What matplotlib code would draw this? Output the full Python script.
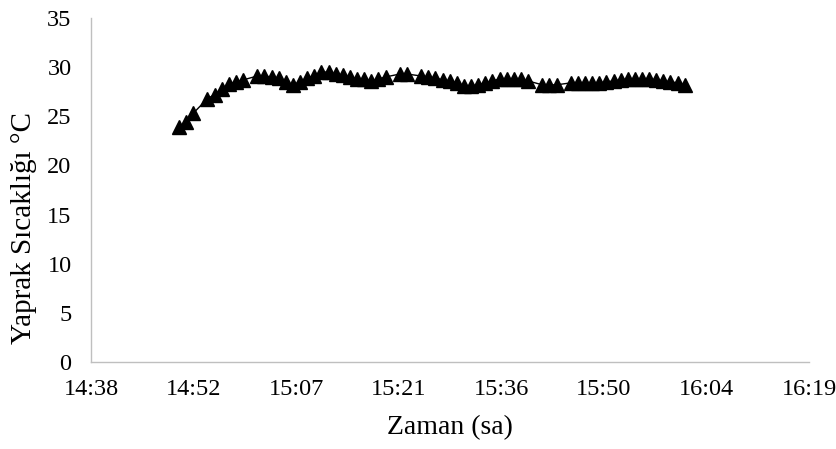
import matplotlib
matplotlib.use("Agg")
import matplotlib.pyplot as plt
from matplotlib.ticker import FixedLocator, FuncFormatter

# leaf temperature log, one reading per minute (a few readings missing)
zaman = [
    "14:50:45", "14:51:45", "14:52:45", "14:54:45", "14:55:45", "14:56:45",
    "14:57:45", "14:58:45", "14:59:45", "15:01:45", "15:02:45", "15:03:45",
    "15:04:45", "15:05:45", "15:06:45", "15:07:45", "15:08:45", "15:09:45",
    "15:10:45", "15:11:45", "15:12:45", "15:13:45", "15:14:45", "15:15:45",
    "15:16:45", "15:17:45", "15:18:45", "15:19:45", "15:21:45", "15:22:45",
    "15:24:45", "15:25:45", "15:26:45", "15:27:45", "15:28:45", "15:29:45",
    "15:30:45", "15:31:45", "15:32:45", "15:33:45", "15:34:45", "15:35:45",
    "15:36:45", "15:37:45", "15:38:45", "15:39:45", "15:41:45", "15:42:45",
    "15:43:45", "15:45:45", "15:46:45", "15:47:45", "15:48:45", "15:49:45",
    "15:50:45", "15:51:45", "15:52:45", "15:53:45", "15:54:45", "15:55:45",
    "15:56:45", "15:57:45", "15:58:45", "15:59:45", "16:00:45", "16:01:45",
]
sicaklik = [
    23.9, 24.4, 25.3, 26.8, 27.2, 27.8,
    28.3, 28.5, 28.7, 29.1, 29.1, 29.0,
    28.9, 28.5, 28.2, 28.5, 28.9, 29.1,
    29.5, 29.5, 29.3, 29.2, 29.0, 28.8,
    28.8, 28.6, 28.8, 29.0, 29.3, 29.3,
    29.1, 29.0, 28.9, 28.7, 28.6, 28.4,
    28.1, 28.1, 28.2, 28.4, 28.6, 28.8,
    28.8, 28.8, 28.8, 28.6, 28.2, 28.2,
    28.2, 28.4, 28.4, 28.4, 28.4, 28.4,
    28.5, 28.6, 28.7, 28.8, 28.8, 28.8,
    28.8, 28.7, 28.6, 28.5, 28.4, 28.2,
]
x_ticks = [0.61, 0.62, 0.63, 0.64, 0.65, 0.66, 0.67, 0.68]
y_ticks = [0, 5, 10, 15, 20, 25, 30, 35]


def to_day(t):
    h, m, s = [int(v) for v in t.split(":")]
    return (h * 3600 + m * 60 + s) / 86400.0


def hhmm(v, pos=None):
    minutes = int(round(v * 86400) // 60)
    return "%d:%02d" % (minutes // 60, minutes % 60)


x = [to_day(t) for t in zaman]

plt.rcParams["font.family"] = ["Liberation Serif", "DejaVu Serif"]

fig = plt.figure(figsize=(8.37, 4.49), dpi=100)
ax = fig.add_axes([0.1087, 0.1938, 0.8579, 0.7661])

ax.plot(x, sicaklik, "-", color="black", linewidth=1.0, marker="^",
        markersize=10.5, markerfacecolor="black", markeredgecolor="black")

ax.set_xlim(x_ticks[0], x_ticks[-1])
ax.set_ylim(y_ticks[0], y_ticks[-1])
ax.xaxis.set_major_locator(FixedLocator(x_ticks))
ax.xaxis.set_major_formatter(FuncFormatter(hhmm))
ax.set_yticks(y_ticks)
ax.tick_params(axis="both", length=0, labelsize=17.5, colors="black")
ax.tick_params(axis="x", pad=12)
ax.tick_params(axis="y", pad=14)

for side in ["top", "right"]:
    ax.spines[side].set_visible(False)
for side in ["left", "bottom"]:
    ax.spines[side].set_color("#bfbfbf")
    ax.spines[side].set_linewidth(1.0)

ax.set_xlabel("Zaman (sa)", fontsize=20)
ax.xaxis.set_label_coords(0.5, -0.155)
ax.set_ylabel("Yaprak Sıcaklığı °C", fontsize=21)
ax.yaxis.set_label_coords(-0.075, 0.39)

fig.savefig("out.png", dpi=100)
